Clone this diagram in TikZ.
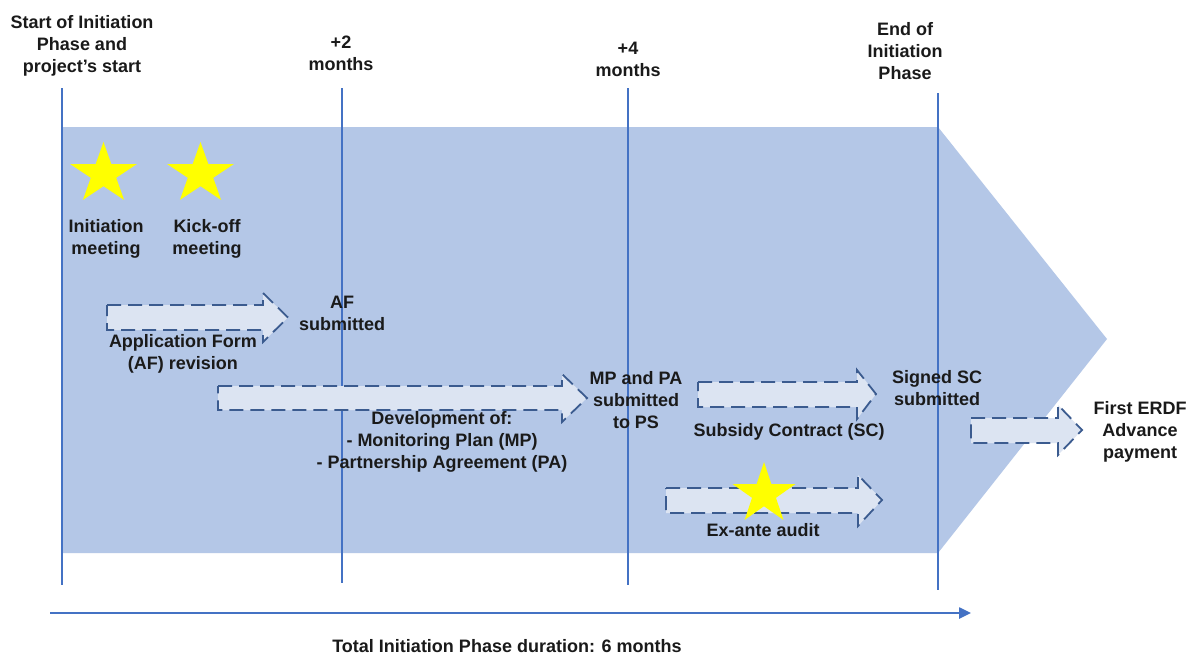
\documentclass[tikz,border=0pt]{standalone}
\usepackage{fontspec}
\setmainfont{Liberation Sans}
\usetikzlibrary{arrows.meta}
\definecolor{bandblue}{HTML}{B4C7E7}
\definecolor{linblue}{HTML}{4472C4}
\definecolor{arrfill}{HTML}{DCE4F2}
\definecolor{dashblue}{HTML}{3B5B8F}
\definecolor{staryellow}{HTML}{FFFF00}
\definecolor{txt}{HTML}{1A1A1A}
% yellow five-pointed star: centre x, centre y, horizontal radius, vertical radius
\newcommand\yellowstar[4]{%
  \fill[staryellow] plot[samples at={0,...,9}]
    ({#1+(1-0.618*mod(\x,2))*#3*sin(36*\x)}, {#2-(1-0.618*mod(\x,2))*#4*cos(36*\x)}) -- cycle;}
\begin{document}
\begin{tikzpicture}[x=1pt,y=-1pt,
  lbl/.style={font=\bfseries\fontsize{18}{22}\selectfont, text=txt, align=center, inner sep=0pt},
  marker/.style={draw=linblue, line width=2pt},
  blockarrow/.style={draw=dashblue, fill=arrfill, line width=1.8pt, dash pattern=on 14pt off 7pt, line join=miter}]
\useasboundingbox (0,0) rectangle (1188,657);
\fill[white] (0,0) rectangle (1188,657);
% big phase band
\fill[bandblue] (62,127) -- (938,127) -- (1107,339) -- (938,553) -- (62,553) -- cycle;
% timeline markers
\coordinate (m1t) at (62,88);   \coordinate (m1b) at (62,585);
\coordinate (m2t) at (342,88);  \coordinate (m2b) at (342,583);
\coordinate (m3t) at (628,88);  \coordinate (m3b) at (628,585);
\coordinate (m4t) at (938,93);  \coordinate (m4b) at (938,590);
\draw[marker] (m1t) -- (m1b);
\draw[marker] (m2t) -- (m2b);
\draw[marker] (m3t) -- (m3b);
\draw[marker] (m4t) -- (m4b);
% block arrows
\draw[blockarrow] (107,305) -- (263,305) -- (263,293) -- (288,317.5) -- (263,342) -- (263,330) -- (107,330) -- cycle;
\draw[blockarrow] (218,386) -- (562,386) -- (562,374) -- (587,398) -- (562,422) -- (562,410) -- (218,410) -- cycle;
\draw[blockarrow] (698,382) -- (857,382) -- (857,370) -- (876,394) -- (857,419) -- (857,407) -- (698,407) -- cycle;
\draw[blockarrow] (666,488) -- (858,488) -- (858,475) -- (882,500) -- (858,526) -- (858,513) -- (666,513) -- cycle;
\draw[blockarrow] (971,418) -- (1058,418) -- (1058,405) -- (1082,430) -- (1058,455) -- (1058,443) -- (971,443) -- cycle;
% stars
\yellowstar{103.5}{174}{35}{32}
\yellowstar{200.5}{174}{35}{32}
\yellowstar{764}{494}{33}{32}
% labels
\node[lbl] (start) at (82,46) {Start of Initiation\\Phase and\\project's start};
\node[lbl] (two) at (341,53) {+2\\months};
\node[lbl] (four) at (628,59) {+4\\months};
\node[lbl] (endp) at (905,51) {End of\\Initiation\\Phase};
\node[lbl] (initm) at (106,239) {Initiation\\meeting};
\node[lbl] (kick) at (207,239) {Kick-off\\meeting};
\node[lbl] (afsub) at (342,313) {AF\\submitted};
\node[lbl] (afrev) at (183,354) {Application Form\\(AF) revision};
\node[lbl] (dev) at (442,442) {Development of:\\- Monitoring Plan (MP)\\- Partnership Agreement (PA)};
\node[lbl] (mppa) at (636,400) {MP and PA\\submitted\\to PS};
\node[lbl] (sc) at (789,432) {Subsidy Contract (SC)};
\node[lbl] (signed) at (937,388) {Signed SC\\submitted};
\node[lbl] (audit) at (763,530) {Ex-ante audit};
\node[lbl] (erdf) at (1140,432) {First ERDF\\Advance\\payment};
% total duration arrow
\coordinate (ta) at (50,613);
\coordinate (tb) at (971,613);
\draw[draw=linblue, line width=2.5pt, -{Triangle[length=12pt,width=11pt]}] (ta) -- (tb);
\node[lbl] (total) at (507,646) {Total Initiation Phase duration: 6 months};
\end{tikzpicture}
\end{document}
